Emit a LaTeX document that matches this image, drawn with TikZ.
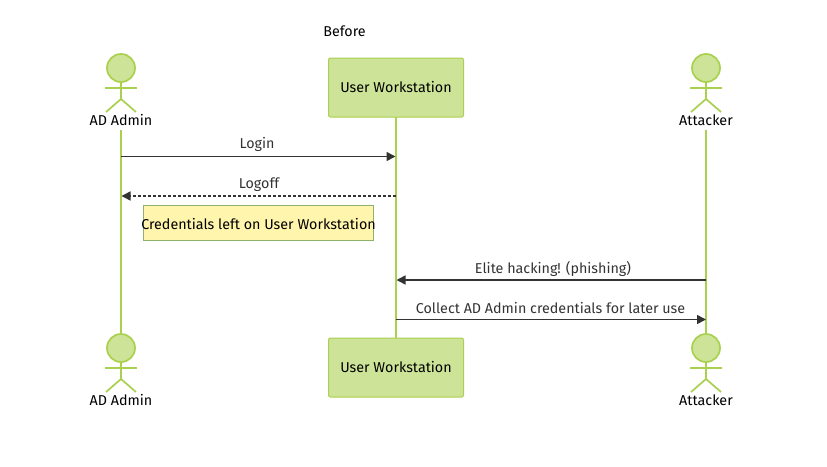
\documentclass[tikz,border=0pt]{standalone}
\usepackage{fontspec}
\setmainfont{Fira Sans}
\usetikzlibrary{arrows.meta}
\definecolor{actfill}{HTML}{CDE498}
\definecolor{actline}{HTML}{A9D04E}
\definecolor{notefill}{HTML}{FFF5AD}
\definecolor{noteline}{HTML}{8DB36B}
\definecolor{msg}{HTML}{333333}
\tikzset{
  x=1pt,y=-1pt,
  txt/.style={font=\fontsize{14.3}{16}\selectfont,inner sep=0pt,text=black},
  msgtxt/.style={font=\fontsize{14.3}{16}\selectfont,inner sep=0pt,text=msg},
  partbox/.style={draw=actline,fill=actfill,line width=1pt,rounded corners=2pt,minimum width=135pt,minimum height=59pt,inner sep=0pt,font=\fontsize{14.3}{16}\selectfont},
  head/.style={circle,draw=actline,fill=actfill,line width=1.7pt,minimum size=28pt,inner sep=0pt},
  limb/.style={draw=actline,line width=1.7pt},
  life/.style={draw=actline,line width=1.7pt},
  msgline/.style={draw=msg,line width=1.5pt,-{Triangle[length=9pt,width=9pt]}},
  retline/.style={msgline,dash pattern=on 3pt off 2pt},
  notebox/.style={draw=noteline,fill=notefill,line width=.8pt,minimum width=230pt,minimum height=35pt,inner sep=0pt},
}
\newcommand{\stick}[4]{%
  \node[head] (#1h) at (#2,#3) {};
  \coordinate (#1n) at (#2,#3+14);
  \coordinate (#1w) at (#2,#3+31);
  \coordinate (#1al) at (#2-16,#3+20);
  \coordinate (#1ar) at (#2+16,#3+20);
  \coordinate (#1ll) at (#2-15,#3+44);
  \coordinate (#1lr) at (#2+15,#3+44);
  \draw[limb] (#1h.south) -- (#1w);
  \draw[limb] (#1al) -- (#1ar);
  \draw[limb] (#1ll) -- (#1w) -- (#1lr);
  \node[txt,anchor=center] (#1t) at (#2,#3+52) {#4};
}
\begin{document}
\begin{tikzpicture}
\useasboundingbox (0,0) rectangle (827,466);
\node[txt] (title) at (344.5,31.5) {Before};
\coordinate (aT) at (121,130);
\coordinate (aB) at (121,334);
\coordinate (uT) at (396,117);
\coordinate (uB) at (396,338);
\coordinate (xT) at (706,130);
\coordinate (xB) at (706,334);
\draw[life] (aT) -- (aB);
\draw[life] (uT) -- (uB);
\draw[life] (xT) -- (xB);
\stick{a}{121}{68}{AD Admin}
\stick{x}{706}{68}{Attacker}
\stick{b}{121}{348}{AD Admin}
\stick{y}{706}{348}{Attacker}
\node[partbox] (ut) at (396,87.5) {\raisebox{-1pt}{User Workstation}};
\node[partbox] (ub) at (396,367.5) {\raisebox{-1pt}{User Workstation}};
\coordinate (a1) at (121,156.5);
\coordinate (u1) at (395.5,156.5);
\coordinate (u2) at (396,196);
\coordinate (a2) at (121.5,196);
\coordinate (x3) at (706,280);
\coordinate (u3) at (396.5,280);
\coordinate (u4) at (396,319.5);
\coordinate (x4) at (706,319.5);
\draw[msgline] (a1) -- (u1);
\draw[retline] (u2) -- (a2);
\draw[msgline] (x3) -- (u3);
\draw[msgline] (u4) -- (x4);
\node[msgtxt] (m1) at (257,144.5) {Login};
\node[msgtxt] (m2) at (259,184.5) {Logoff};
\node[msgtxt] (m3) at (553,268.5) {Elite hacking! (phishing)};
\node[msgtxt] (m4) at (550.5,308) {Collect AD Admin credentials for later use};
\node[notebox] (note) at (258,223) {};
\node[txt] (notet) at (258.5,224) {Credentials left on User Workstation};
\end{tikzpicture}
\end{document}
